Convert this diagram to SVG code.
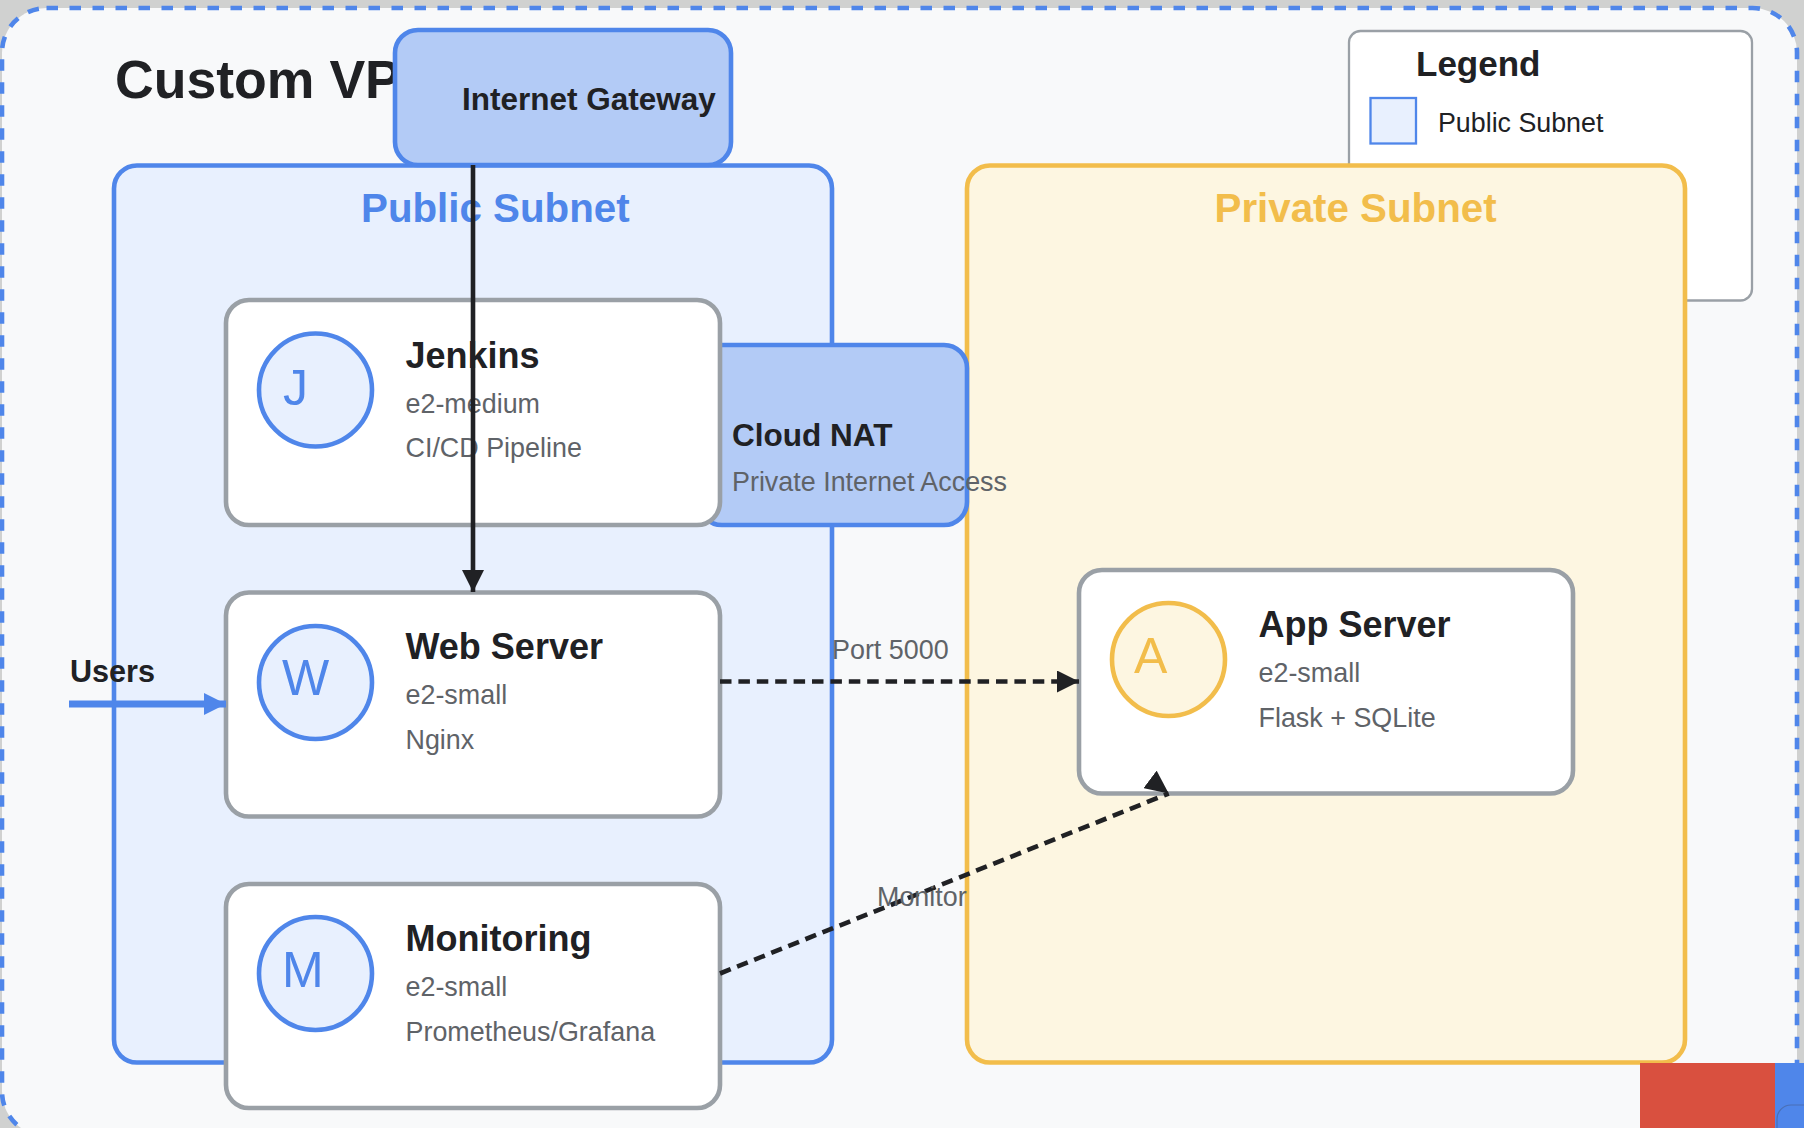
<svg xmlns="http://www.w3.org/2000/svg" width="1804" height="1128" viewBox="0 0 1804 1128">
<style>
text{font-family:"Liberation Sans",Arial,sans-serif}
.card{fill:#fff;stroke:#9aa0a6;stroke-width:4.6}
.title{font-size:36px;font-weight:700;fill:#202124}
.sub{font-size:26.9px;fill:#5f6368}
.blue{fill:#4f86ea}
.circ{stroke-width:4.6}
.letter{font-size:50px}
.gw{fill:#b3cbf6;stroke:#4f86ea;stroke-width:4.6}
.gwt{font-size:31.5px;font-weight:700;fill:#202124}
.c{fill:none;stroke:#202124;stroke-width:4.6}
.d{stroke-dasharray:11.5 6.9}
</style>
<defs>
<marker id="ah" markerUnits="userSpaceOnUse" markerWidth="23" markerHeight="22" refX="22" refY="11" orient="auto"><path d="M0 0L22 11L0 22Z" fill="#202124"/></marker>
<marker id="ahb" markerUnits="userSpaceOnUse" markerWidth="23" markerHeight="22" refX="22" refY="11" orient="auto"><path d="M0 0L22 11L0 22Z" fill="#4f86ea"/></marker>
<marker id="ahm" markerUnits="userSpaceOnUse" markerWidth="24" markerHeight="22" refX="23.4" refY="11" orient="37"><path d="M0 0L23.4 11L0 22Z" fill="#202124"/></marker>
</defs>
<rect width="1804" height="1128" fill="#d0d1d0"/>
<rect id="vpc" x="2" y="8" width="1795" height="1128" rx="44.5" fill="#f8f9fa" stroke="#4f86ea" stroke-width="4.6" stroke-dasharray="11.5 11.5"/>
<text x="115" y="98" font-size="53.6" font-weight="700" fill="#202124">Custom VP</text>
<g id="legend">
<rect x="1349" y="31" width="403" height="269.5" rx="11.5" fill="#fff" stroke="#9aa0a6" stroke-width="2.3"/>
<text x="1416" y="76" font-size="35" font-weight="700" fill="#202124">Legend</text>
<rect x="1370.5" y="98" width="45.5" height="45.5" fill="#e8f0fe" stroke="#4f86ea" stroke-width="2.3"/>
<text x="1438" y="131.5" font-size="26.8" fill="#202124">Public Subnet</text>
</g>
<g id="public-subnet">
<rect x="114" y="165.5" width="718" height="897" rx="23" fill="#e8f0fe" stroke="#4f86ea" stroke-width="4.6"/>
<text x="361" y="222" font-size="40.3" font-weight="700" fill="#4f86ea">Public Subnet</text>
</g>
<g id="private-subnet">
<rect x="967" y="165.5" width="718" height="897" rx="23" fill="#fdf6e1" stroke="#f2bd4b" stroke-width="4.6"/>
<text x="1214.5" y="222" font-size="40.3" font-weight="700" fill="#f2bd4b">Private Subnet</text>
</g>
<g id="internet-gateway">
<rect class="gw" x="395" y="30" width="336" height="135" rx="23"/>
<text class="gwt" x="462" y="110">Internet Gateway</text>
</g>
<g id="cloud-nat">
<rect class="gw" x="699" y="345" width="268" height="180" rx="23"/>
<text class="gwt" x="732" y="446">Cloud NAT</text>
<text class="sub" x="732" y="491">Private Internet Access</text>
</g>
<g id="jenkins">
<rect class="card" x="226" y="300" width="494" height="225" rx="23"/>
<circle class="circ" cx="315.5" cy="390" r="56.5" fill="#e8f0fe" stroke="#4f86ea"/>
<text class="letter blue" x="283" y="405">J</text>
<text class="title" x="405.5" y="368">Jenkins</text>
<text class="sub" x="405.5" y="413">e2-medium</text>
<text class="sub" x="405.5" y="457">CI/CD Pipeline</text>
</g>
<g id="web-server">
<rect class="card" x="226" y="592.5" width="494" height="224" rx="23"/>
<circle class="circ" cx="315.5" cy="682.5" r="56.5" fill="#e8f0fe" stroke="#4f86ea"/>
<text class="letter blue" x="282" y="695">W</text>
<text class="title" x="405.5" y="658.5">Web Server</text>
<text class="sub" x="405.5" y="704">e2-small</text>
<text class="sub" x="405.5" y="749">Nginx</text>
</g>
<g id="monitoring">
<rect class="card" x="226" y="884" width="494" height="224" rx="23"/>
<circle class="circ" cx="315.5" cy="973.5" r="56.5" fill="#e8f0fe" stroke="#4f86ea"/>
<text class="letter blue" x="282" y="987">M</text>
<text class="title" x="405.5" y="951">Monitoring</text>
<text class="sub" x="405.5" y="995.5">e2-small</text>
<text class="sub" x="405.5" y="1040.5">Prometheus/Grafana</text>
</g>
<g id="app-server">
<rect class="card" x="1079" y="570" width="494" height="223.5" rx="23"/>
<circle class="circ" cx="1168.5" cy="659.5" r="56.5" fill="#fdf6e1" stroke="#f2bd4b"/>
<text class="letter" x="1134" y="673" fill="#f2bd4b">A</text>
<text class="title" x="1258.5" y="637">App Server</text>
<text class="sub" x="1258.5" y="681.5">e2-small</text>
<text class="sub" x="1258.5" y="726.5">Flask + SQLite</text>
</g>
<g id="connectors">
<path class="c" d="M473 165V592" marker-end="url(#ah)"/>
<path d="M69 704H226" fill="none" stroke="#4f86ea" stroke-width="6.9" marker-end="url(#ahb)"/>
<path class="c d" d="M720 681.5H1079" marker-end="url(#ah)"/>
<path class="c d" d="M720 973.5L1168.7 793.5" marker-end="url(#ahm)"/>
<text x="70" y="681.5" font-size="30.6" font-weight="700" fill="#202124">Users</text>
<text class="sub" x="832" y="658.5">Port 5000</text>
<text class="sub" x="877" y="906">Monitor</text>
</g>
<g id="clipped-legend-swatches">
<rect x="1640" y="1063" width="135" height="65" fill="#d9503f"/>
<rect x="1775" y="1063" width="29" height="65" fill="#4f86ea"/>
<rect x="1777" y="1105" width="60" height="60" rx="14" fill="none" stroke="#4a6fb5" stroke-width="1.2"/>
</g>
</svg>
